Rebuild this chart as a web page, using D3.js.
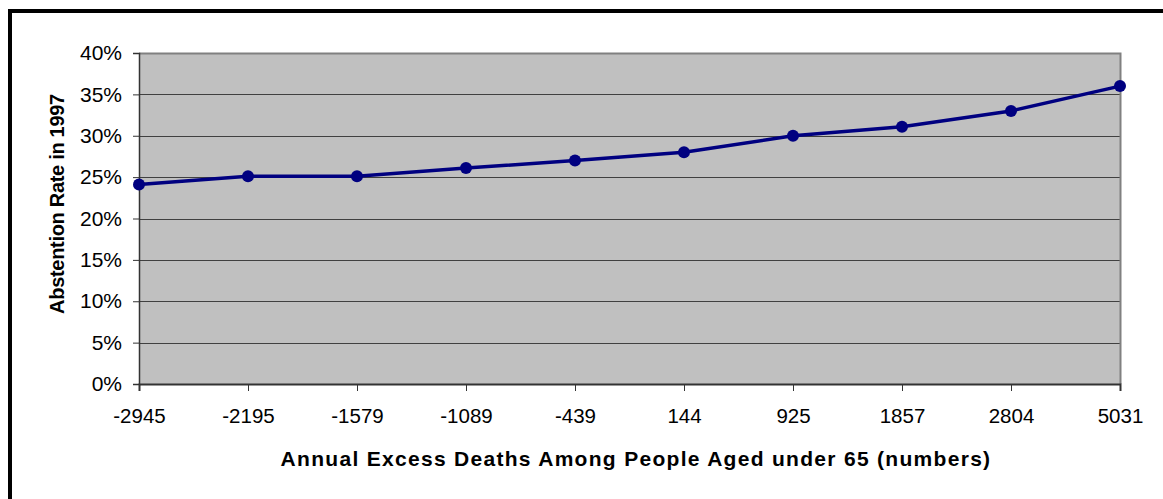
<!DOCTYPE html>
<html>
<head>
<meta charset="utf-8">
<script src="https://cdn.jsdelivr.net/npm/d3@7"></script>
<style>
  html, body { margin: 0; padding: 0; background: #fff; }
  svg { display: block; }
  text { font-family: "Liberation Sans", Arial, sans-serif; }
</style>
</head>
<body>
<svg id="chart" width="1163" height="499"></svg>
<script>
// Excess deaths categories (x) and abstention rate (y, %)
const categories = ["-2945", "-2195", "-1579", "-1089", "-439", "144", "925", "1857", "2804", "5031"];
const abstention = [24.1, 25.1, 25.1, 26.1, 27.0, 28.0, 30.0, 31.1, 33.0, 36.0];
const yTicks = [0, 5, 10, 15, 20, 25, 30, 35, 40];
const xTitle = "Annual Excess Deaths Among People Aged under 65 (numbers)";
const yTitle = "Abstention Rate in 1997";

const svg = d3.select("#chart");
const W = 1163, H = 499;
const plot = { left: 139, right: 1120, top: 53, bottom: 384 };
const FONT = "'Liberation Sans', Arial, sans-serif";

// Outer frame (runs off the right and bottom edges)
svg.append("rect")
  .attr("x", 10).attr("y", 11)
  .attr("width", W + 20).attr("height", H + 20)
  .attr("fill", "#fff").attr("stroke", "#000").attr("stroke-width", 4);

const x = d3.scalePoint().domain(categories).range([plot.left, plot.right]);
const y = d3.scaleLinear().domain([0, 40]).range([plot.bottom, plot.top]);

// Plot background
svg.append("rect")
  .attr("x", plot.left).attr("y", plot.top)
  .attr("width", plot.right - plot.left).attr("height", plot.bottom - plot.top)
  .attr("fill", "#c0c0c0");

// Horizontal gridlines
svg.append("g").selectAll("line")
  .data(yTicks.filter(t => t > 0 && t < 40))
  .join("line")
  .attr("x1", plot.left).attr("x2", plot.right)
  .attr("y1", d => Math.round(y(d)) + 0.5).attr("y2", d => Math.round(y(d)) + 0.5)
  .attr("stroke", "#404040").attr("stroke-width", 1);

// Plot border top/right
svg.append("path")
  .attr("d", `M${plot.left},${plot.top + 0.5}H${plot.right + 0.5}V${plot.bottom}`)
  .attr("fill", "none").attr("stroke", "#808080").attr("stroke-width", 2);

// Y axis
const yAxis = d3.axisLeft(y).tickValues(yTicks).tickFormat(d => d + "%").tickSize(6).tickPadding(11);
const gy = svg.append("g").attr("transform", `translate(${plot.left},0)`).call(yAxis);
gy.select(".domain").attr("stroke", "#333").attr("stroke-width", 1.5);
gy.selectAll(".tick line").attr("stroke", "#333");
gy.selectAll("text").attr("font-size", 21).attr("fill", "#000").attr("font-family", FONT);

// X axis
const xAxis = d3.axisBottom(x).tickSize(7).tickPadding(17);
const gx = svg.append("g").attr("transform", `translate(0,${plot.bottom})`).call(xAxis);
gx.select(".domain").attr("stroke", "#333").attr("stroke-width", 2);
gx.selectAll(".tick line").attr("stroke", "#333");
gx.selectAll("text").attr("font-size", 20.5).attr("fill", "#000").attr("font-family", FONT);

// Series line
const line = d3.line().x((d, i) => x(categories[i])).y(d => y(d));
svg.append("path")
  .datum(abstention)
  .attr("d", line)
  .attr("fill", "none").attr("stroke", "#000080").attr("stroke-width", 3.5)
  .attr("stroke-linejoin", "round");

// Markers
svg.append("g").selectAll("circle")
  .data(abstention)
  .join("circle")
  .attr("cx", (d, i) => x(categories[i])).attr("cy", d => y(d))
  .attr("r", 6).attr("fill", "#000080");

// Axis titles
svg.append("text")
  .attr("x", 636).attr("y", 466)
  .attr("text-anchor", "middle").attr("font-size", 21).attr("font-weight", "bold")
  .attr("letter-spacing", 1.3)
  .text(xTitle);

svg.append("text")
  .attr("transform", `translate(64,204) rotate(-90)`)
  .attr("text-anchor", "middle").attr("font-size", 20).attr("font-weight", "bold")
  .attr("letter-spacing", -0.3)
  .text(yTitle);
</script>
</body>
</html>
